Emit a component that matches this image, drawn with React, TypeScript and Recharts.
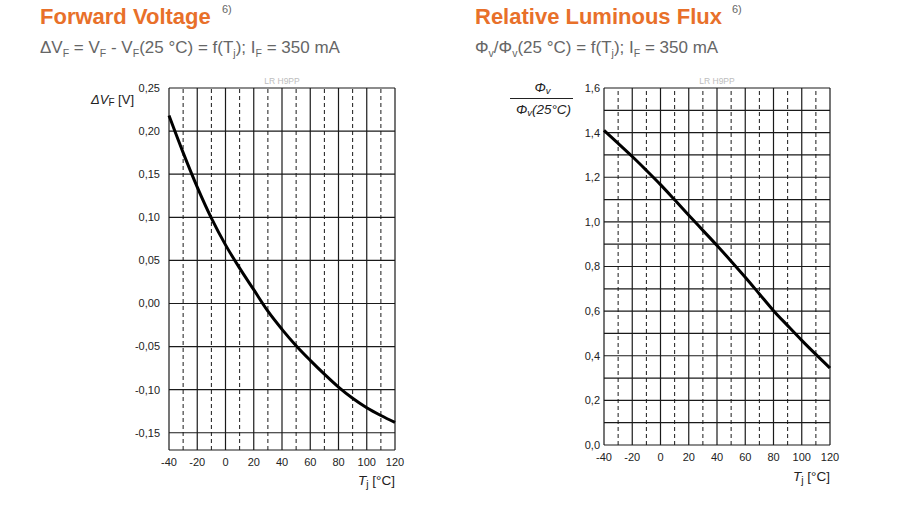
import React from 'react';
import { LineChart, Line, XAxis, YAxis, ReferenceLine } from 'recharts';

// ---- data ----
const temps = [-40, -30, -20, -10, 0, 10, 20, 30, 40, 50, 60, 70, 80, 90, 100, 110, 120];
const deltaVF = [0.218, 0.175, 0.135, 0.099, 0.068, 0.041, 0.016, -0.009, -0.030, -0.049, -0.066, -0.082, -0.097, -0.110, -0.121, -0.130, -0.138];
const relFlux = [1.41, 1.352, 1.293, 1.231, 1.167, 1.099, 1.03, 0.962, 0.894, 0.824, 0.752, 0.677, 0.602, 0.535, 0.469, 0.406, 0.345];

const xTicks = [-40, -20, 0, 20, 40, 60, 80, 100, 120];
const xDashed = [-30, -10, 10, 30, 50, 70, 90, 110];
const leftYTicks = [-0.15, -0.1, -0.05, 0, 0.05, 0.1, 0.15, 0.2, 0.25];
const leftYDomain = [-0.17, 0.25];
const rightYTicks = [0, 0.2, 0.4, 0.6, 0.8, 1.0, 1.2, 1.4, 1.6];
const rightYGrid = [0, 0.1, 0.2, 0.3, 0.4, 0.5, 0.6, 0.7, 0.8, 0.9, 1.0, 1.1, 1.2, 1.3, 1.4, 1.5, 1.6];
const rightYDomain = [0, 1.6];

const leftData = temps.map((t, i) => ({ t, v: deltaVF[i] }));
const rightData = temps.map((t, i) => ({ t, v: relFlux[i] }));

const FONT = '"Liberation Sans", Arial, Helvetica, sans-serif';
const ORANGE = '#E8702A';
const GRAY = '#666666';
const GRID = '#1a1a1a';

const tickStyle = { fontSize: 11, fill: '#222', fontFamily: FONT };

const fmt2 = (v: number) => v.toFixed(2).replace('.', ',');
const fmt1 = (v: number) => v.toFixed(1).replace('.', ',');

const watermark = { value: 'LR H9PP', position: 'top' as const, fill: '#bdbdbd', fontSize: 8.5, fontFamily: FONT, offset: 4 };

function TjLabel(props: any) {
  const vb = props.viewBox || {};
  const right = vb.x + vb.width;
  return (
    <text x={right} y={vb.y + props.dyBase} textAnchor="end" fontFamily={FONT} fontSize={13.5} fill="#222">
      <tspan fontStyle="italic">T</tspan>
      <tspan fontSize={10.5} dy={3}>j</tspan>
      <tspan dy={-3}> [°C]</tspan>
    </text>
  );
}

function LeftYLabel(props: any) {
  const vb = props.viewBox || {};
  return (
    <text x={vb.x + 5} y={vb.y + 16} textAnchor="end" fontFamily={FONT} fontSize={13} fill="#222">
      <tspan fontStyle="italic">ΔV</tspan>
      <tspan fontSize={10} dy={2}>F</tspan>
      <tspan dy={-2}> [V]</tspan>
    </text>
  );
}

function RightYLabel(props: any) {
  const vb = props.viewBox || {};
  const cx = vb.x - 22.5;
  return (
    <g fontFamily={FONT} fill="#222">
      <text x={cx + 1} y={vb.y + 4} textAnchor="middle" fontSize={13.5} fontStyle="italic">
        Φ<tspan fontSize={9.5} dy={2}>v</tspan>
      </text>
      <line x1={cx - 31.5} x2={cx + 31.5} y1={vb.y + 10.5} y2={vb.y + 10.5} stroke="#222" strokeWidth={1} />
      <text x={cx + 2} y={vb.y + 26} textAnchor="middle" fontSize={13.5} fontStyle="italic">
        Φ<tspan fontSize={9.5} dy={2}>v</tspan><tspan dy={-2}>(25°C)</tspan>
      </text>
    </g>
  );
}

function gridLines(hVals: number[], topVal: number, bottomVal: number) {
  const els: any[] = [];
  hVals.forEach((v) =>
    els.push(
      <ReferenceLine key={'h' + v} y={v} stroke={GRID} strokeWidth={1.2} ifOverflow="extendDomain"
        label={v === topVal ? watermark : undefined} />
    )
  );
  if (!hVals.includes(bottomVal)) {
    els.push(<ReferenceLine key="hb" y={bottomVal} stroke={GRID} strokeWidth={1.2} />);
  }
  xTicks.forEach((x) => els.push(<ReferenceLine key={'v' + x} x={x} stroke={GRID} strokeWidth={1.2} />));
  xDashed.forEach((x) =>
    els.push(<ReferenceLine key={'d' + x} x={x} stroke={GRID} strokeWidth={1} strokeDasharray="4 3" />)
  );
  return els;
}

export default function App() {
  return (
    <div style={{ position: 'absolute', left: 0, top: 0, width: 917, height: 507, background: '#fff', overflow: 'hidden' }}>
      <svg width={917} height={62} style={{ position: 'absolute', left: 0, top: 0 }}>
        <text x={40} y={24} fontFamily={FONT} fontSize={22} fontWeight="bold" fill={ORANGE}>Forward Voltage</text>
        <text x={222} y={13} fontFamily={FONT} fontSize={11} fill={GRAY}>6)</text>
        <text x={40} y={53} fontFamily={FONT} fontSize={17} fill={GRAY}>
          ΔV<tspan fontSize={10.5} dy={4}>F</tspan>
          <tspan dy={-4}> = V</tspan><tspan fontSize={10.5} dy={4}>F</tspan>
          <tspan dy={-4}> - V</tspan><tspan fontSize={10.5} dy={4}>F</tspan>
          <tspan dy={-4}>(25 °C) = f(T</tspan><tspan fontSize={10.5} dy={4}>j</tspan>
          <tspan dy={-4}>); I</tspan><tspan fontSize={10.5} dy={4}>F</tspan>
          <tspan dy={-4}> = 350 mA</tspan>
        </text>

        <text x={475} y={24} fontFamily={FONT} fontSize={22} fontWeight="bold" fill={ORANGE}>Relative Luminous Flux</text>
        <text x={732} y={13} fontFamily={FONT} fontSize={11} fill={GRAY}>6)</text>
        <text x={475} y={53} fontFamily={FONT} fontSize={17} fill={GRAY}>
          Φ<tspan fontSize={10.5} dy={4}>v</tspan>
          <tspan dy={-4}>/Φ</tspan><tspan fontSize={10.5} dy={4}>v</tspan>
          <tspan dy={-4}>(25 °C) = f(T</tspan><tspan fontSize={10.5} dy={4}>j</tspan>
          <tspan dy={-4}>); I</tspan><tspan fontSize={10.5} dy={4}>F</tspan>
          <tspan dy={-4}> = 350 mA</tspan>
        </text>
      </svg>

      <div style={{ position: 'absolute', left: 0, top: 0 }}>
        <LineChart width={460} height={507} data={leftData} margin={{ top: 88, right: 65, bottom: 27, left: 129 }}>
          <XAxis dataKey="t" type="number" domain={[-40, 120]} ticks={xTicks} axisLine={false} tickLine={false}
            tick={tickStyle} height={30} interval={0}
            label={<TjLabel dyBase={35} />} />
          <YAxis type="number" domain={leftYDomain} ticks={leftYTicks} axisLine={false} tickLine={false}
            tick={tickStyle} width={40} tickSize={7} tickMargin={2} tickFormatter={fmt2} interval={0}
            label={<LeftYLabel />} />
          {gridLines(leftYTicks, 0.25, -0.17)}
          <Line type="monotone" dataKey="v" stroke="#000" strokeWidth={3} dot={false} isAnimationActive={false} />
        </LineChart>
      </div>

      <div style={{ position: 'absolute', left: 457, top: 0 }}>
        <LineChart width={460} height={507} data={rightData} margin={{ top: 88, right: 87, bottom: 32, left: 107 }}>
          <XAxis dataKey="t" type="number" domain={[-40, 120]} ticks={xTicks} axisLine={false} tickLine={false}
            tick={tickStyle} height={30} interval={0}
            label={<TjLabel dyBase={36} />} />
          <YAxis type="number" domain={rightYDomain} ticks={rightYTicks} axisLine={false} tickLine={false}
            tick={tickStyle} width={40} tickSize={2} tickMargin={2} tickFormatter={fmt1} interval={0}
            label={<RightYLabel />} />
          {gridLines(rightYGrid, 1.6, 0)}
          <Line type="monotone" dataKey="v" stroke="#000" strokeWidth={3} dot={false} isAnimationActive={false} />
        </LineChart>
      </div>
    </div>
  );
}
